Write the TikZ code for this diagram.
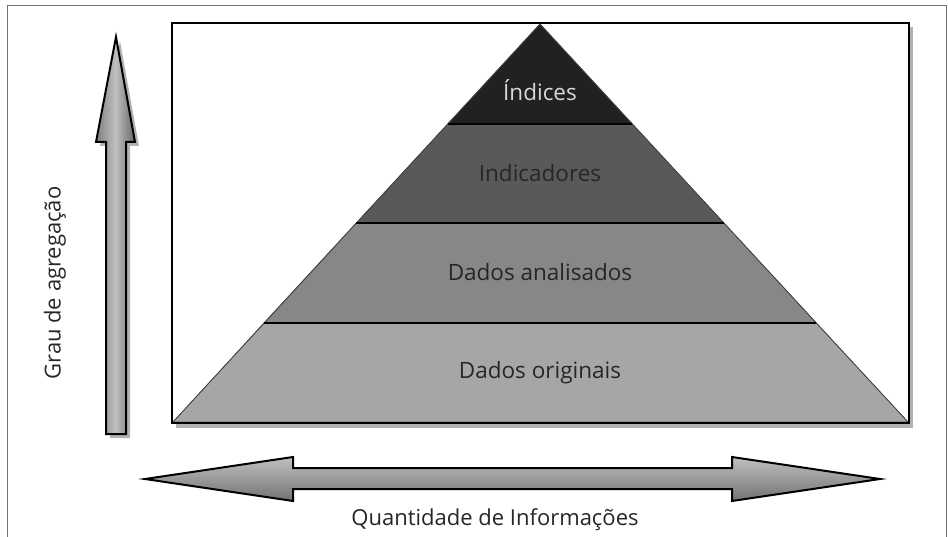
\documentclass[tikz,border=0pt]{standalone}
\usepackage{fontspec}
\setmainfont{Open Sans}
\begin{document}
\begin{tikzpicture}[x=1pt,y=-1pt,
  lbl/.style={font=\fontsize{22.5}{26}\selectfont, text=black!85},
  axlbl/.style={font=\fontsize{22}{26}\selectfont, text=black!85},
  layer/.style={draw=black!70, line width=0.6pt},
  sep/.style={draw=black, line width=1.3pt},
  bigarrow/.style={draw=black, line width=2pt, line join=miter},
  shadowfill/.style={fill=black!30}]
\useasboundingbox (0,0) rectangle (948,537);
% outer frame
\draw[black!55, line width=0.8pt] (7,537) -- (7,5) -- (946,5) -- (946,537);
% inner frame with shadow
\fill[shadowfill] (176,27) rectangle (913,428);
\draw[line width=2pt, fill=white] (172,23) rectangle (909,423);
% pyramid layers
\coordinate (apex) at (540,24);
\fill[layer, fill=black!35] (173,422) -- (263.9,323) -- (816.1,323) -- (908,422) -- cycle;
\fill[layer, fill=black!47] (263.9,323) -- (356.2,223) -- (723.8,223) -- (816.1,323) -- cycle;
\fill[layer, fill=black!65] (356.2,223) -- (447.7,124) -- (632.3,124) -- (723.8,223) -- cycle;
\fill[layer, fill=black!87] (447.7,124) -- (apex) -- (632.3,124) -- cycle;
\draw[black!75, line width=0.7pt] (173,422) -- (apex) -- (908,422);
\draw[sep] (263.9,323) -- (816.1,323);
\draw[sep] (356.2,223) -- (723.8,223);
\draw[sep] (447.7,124) -- (632.3,124);
\draw[line width=2pt] (172,423) -- (909,423);
% labels
\node[lbl, text=white!85!black] (indices) at (540,90) {Índices};
\node[lbl] (indicadores) at (540,173) {Indicadores};
\node[lbl] (analisados) at (540,272) {Dados analisados};
\node[lbl] (originais) at (540,373) {Dados originais};
% vertical arrow
\fill[shadowfill, shift={(4,4)}] (116,37) -- (135,142) -- (126,142) -- (126,434) -- (106,434) -- (106,142) -- (96,142) -- cycle;
\shade[bigarrow, left color=black!50, right color=black!60, middle color=black!25]
  (116,37) -- (135,142) -- (126,142) -- (126,434) -- (106,434) -- (106,142) -- (96,142) -- cycle;
% horizontal arrow
\shade[bigarrow, top color=black!25, bottom color=black!55]
  (145,479) -- (293,457) -- (293,468) -- (732,468) -- (732,457) -- (880,479) -- (732,501) -- (732,489) -- (293,489) -- (293,501) -- cycle;
% axis labels
\node[axlbl, rotate=90] (grau) at (55,283) {Grau de agregação};
\node[axlbl] (quant) at (495,520) {Quantidade de Informações};
\end{tikzpicture}
\end{document}
